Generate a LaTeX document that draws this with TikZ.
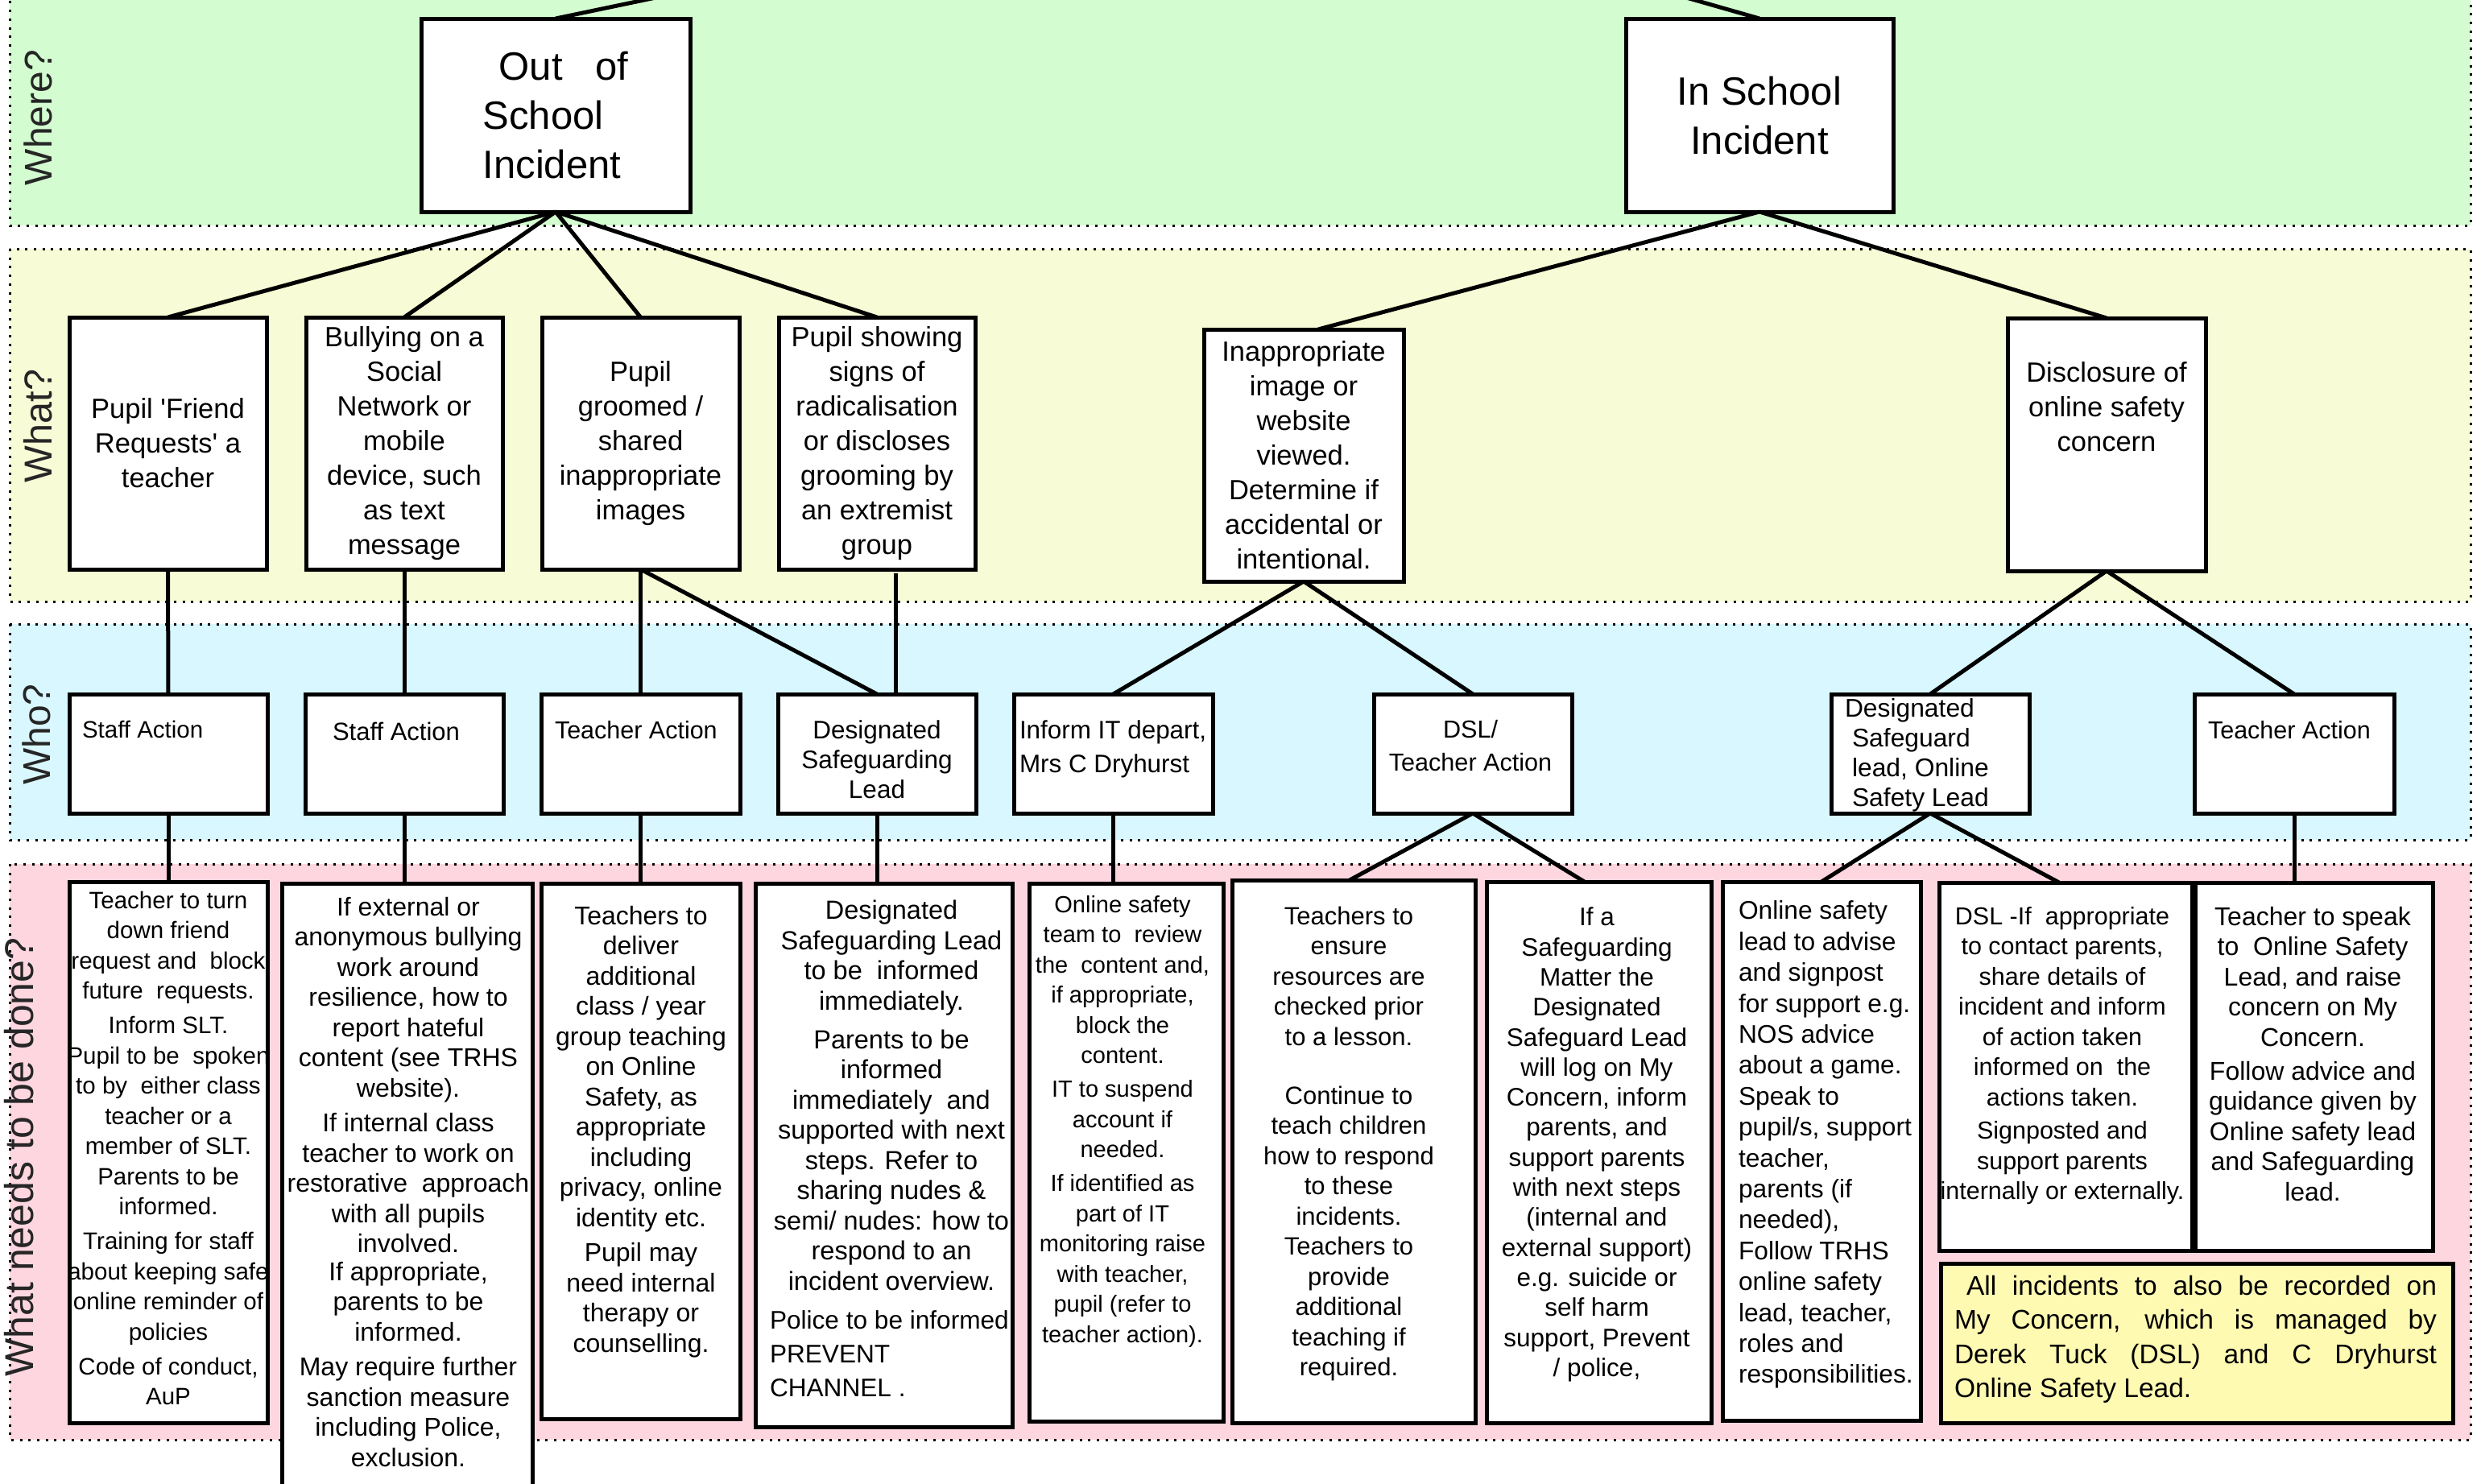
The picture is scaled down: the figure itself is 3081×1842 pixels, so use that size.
\documentclass[tikz,border=0pt]{standalone}
\usepackage{fontspec}
\setmainfont{Liberation Sans}
\definecolor{cgreen}{RGB}{211,252,208}
\definecolor{cyellow}{RGB}{248,252,214}
\definecolor{cblue}{RGB}{217,247,254}
\definecolor{cpink}{RGB}{254,214,224}
\definecolor{cnote}{RGB}{255,250,178}
\newcommand{\fz}[2]{\fontsize{#1}{#2}\selectfont}
\newcommand{\bx}[7][]{\node[bx,anchor=north west,minimum width={#5-#3},minimum height={#6-#4},#1] (#2) at (#3,#4) {#7};}
\tikzset{
  bx/.style={draw, line width=5pt, fill=white, inner sep=0pt, outer sep=0pt, align=center},
  con/.style={line width=5pt},
  band/.style={draw=black, line width=3pt, dash pattern=on 3pt off 7.7pt},
  tx/.style={inner sep=0pt, outer sep=0pt, align=center},
  lbl/.style={inner sep=0pt, rotate=90, anchor=base, text=black!85},
}
\begin{document}
\begin{tikzpicture}[x=1pt,y=-1pt]
\useasboundingbox (0,0) rectangle (3081,1842);
\clip (0,0) rectangle (3081,1842);
% bands
\fill[cgreen] (12,-20) rectangle (3068,280);
\draw[band] (12,-20) rectangle (3068,280);
\fill[cyellow] (12,309) rectangle (3068,747);
\draw[band] (12,309) rectangle (3068,747);
\fill[cblue] (12,775) rectangle (3068,1043);
\draw[band] (12,775) rectangle (3068,1043);
\fill[cpink] (12,1073) rectangle (3068,1788);
\draw[band] (12,1073) rectangle (3068,1788);
% band labels
\node[lbl, font=\fz{48}{58}] (lwhere) at (64,146) {Where?};
\node[lbl, font=\fz{48.5}{58}] (lwhat) at (64,529) {What?};
\node[lbl, font=\fz{48}{58}] (lwho) at (62,912) {Who?};
\node[lbl, font=\fz{50}{60}] (ldo) at (41,1437) {What needs to be done?};
% top level
\bx[font=\fz{49}{61}, align=left]{out}{523}{23}{857}{263}{\hspace*{20pt}Out\ \ \ of\\ School\\ Incident}
\bx[font=\fz{49}{61}]{in}{2019}{23}{2351}{263}{In School\\ Incident}
\coordinate (upL) at (824,-5);
\coordinate (upR) at (2087,-5);
% what level
\bx[font=\fz{34.5}{43}]{w1}{86}{394}{331}{707}{Pupil \textquotesingle Friend\\ Requests\textquotesingle\ a\\ teacher}
\bx[font=\fz{34.5}{43}]{w2}{380}{394}{624}{707}{Bullying on a\\ Social\\ Network or\\ mobile\\ device, such\\ as text\\ message}
\bx[font=\fz{34.5}{43}]{w3}{673}{394}{918}{707}{Pupil\\ groomed /\\ shared\\ inappropriate\\ images}
\bx[font=\fz{34.5}{43}]{w4}{967}{394}{1211}{707}{Pupil showing\\ signs of\\ radicalisation\\ or discloses\\ grooming by\\ an extremist\\ group}
\bx[font=\fz{34.5}{43}]{w5}{1495}{409}{1743}{722}{Inappropriate\\ image or\\ website\\ viewed.\\ Determine if\\ accidental or\\ intentional.}
\bx{w6}{2493}{395}{2739}{709}{}
\node[tx, anchor=north, font=\fz{34.5}{43}] (w6t) at (2616,449) {Disclosure of\\ online safety\\ concern};
% who level
\bx{s1}{86}{862}{332}{1010}{}
\bx{s2}{379}{862}{625}{1010}{}
\bx{s3}{672}{862}{919}{1010}{}
\bx{s4}{966}{862}{1212}{1010}{}
\bx{s5}{1259}{862}{1506}{1010}{}
\bx{s6}{1706}{862}{1952}{1010}{}
\bx{s7}{2274}{862}{2520}{1010}{}
\bx{s8}{2725}{862}{2973}{1010}{}
\node[tx, anchor=base west, font=\fz{29.5}{37}] (s1t) at (102,916) {Staff Action};
\node[tx, anchor=base west, font=\fz{31}{37}] (s2t) at (413,919) {Staff Action};
\node[tx, anchor=base west, font=\fz{30.5}{37}] (s3t) at (689,917) {Teacher Action};
\node[tx, anchor=north, font=\fz{31.5}{37}] (s4t) at (1089,895) {Designated\\ Safeguarding\\ Lead};
\node[tx, anchor=north west, align=left, font=\fz{31.4}{42}] (s5t) at (1266,895) {Inform IT depart,\\ Mrs C Dryhurst};
\node[tx, anchor=north, font=\fz{30.6}{41}] (s6t) at (1826,894) {DSL/\\ Teacher Action};
\node[tx, anchor=north west, align=left, font=\fz{31.8}{37.3}] (s7t) at (2300,867) {\hspace*{-9pt}Designated\\ Safeguard\\ lead, Online\\ Safety Lead};
\node[tx, anchor=base west, font=\fz{30.5}{37}] (s8t) at (2742,917) {Teacher Action};
% action level
\bx{a1}{86}{1095}{332}{1767}{}
\bx{a2}{350}{1097}{661}{1870}{}
\bx{a3}{672}{1097}{919}{1762}{}
\bx{a4}{938}{1097}{1257}{1772}{}
\bx{a5}{1278}{1097}{1519}{1765}{}
\bx{a6}{1530}{1093}{1832}{1767}{}
\bx{a7}{1846}{1095}{2125}{1767}{}
\bx{a8}{2139}{1095}{2385}{1764}{}
\bx{a9}{2408}{1096}{2722}{1553}{}
\bx{a10}{2726}{1096}{3021}{1553}{}
\bx[fill=cnote]{yb}{2410}{1569}{3046}{1767}{}
\node[tx, anchor=north, font=\fz{29.5}{37.5}] (a1t) at (209,1107) {Teacher to turn\\ down friend\\ request and\ \ block\\ future\ \ requests.\\[5.5pt] Inform SLT.\\ Pupil to be\ \ spoken\\ to by\ \ either class\\ teacher or a\\ member of SLT.\\ Parents to be\\ informed.\\[5.5pt] Training for staff\\ about keeping safe\\ online reminder of\\ policies\\[5.5pt] Code of conduct,\\ AuP};
\node[tx, anchor=north, font=\fz{32}{37.5}] (a2t) at (507,1114) {If external or\\ anonymous bullying\\ work around\\ resilience, how to\\ report hateful\\ content (see TRHS\\ website).\\[6pt] If internal class\\ teacher to work on\\ restorative\ \ approach\\ with all pupils\\ involved.\\[-3pt] If appropriate,\\ parents to be\\ informed.\\[6pt] May require further\\ sanction measure\\ including Police,\\ exclusion.};
\node[tx, anchor=north, font=\fz{32}{37.5}] (a3t) at (796,1125) {Teachers to\\ deliver\\ additional\\ class / year\\ group teaching\\ on Online\\ Safety, as\\ appropriate\\ including\\ privacy, online\\ identity etc.\\[6pt] Pupil may\\ need internal\\ therapy or\\ counselling.};
\node[tx, anchor=north, font=\fz{32.5}{37.5}] (a4t) at (1107,1118) {Designated\\ Safeguarding Lead\\ to be\ \ informed\\ immediately.\\[10.5pt] Parents to be\\ informed\\ immediately\ \ and\\ supported with next\\ steps. Refer to\\ sharing nudes \&\\ semi/ nudes: how to\\ respond to an\\ incident overview.};
\node[tx, anchor=north west, align=left, font=\fz{31.6}{42}] (a4u) at (956,1628) {Police to be informed\\ PREVENT\\ CHANNEL .};
\node[tx, anchor=north, font=\fz{29}{37.5}] (a5t) at (1394,1112) {Online safety\\ team to\ \ review\\ the\ \ content and,\\ if appropriate,\\ block the\\ content.\\[4.5pt] IT to suspend\\ account if\\ needed.\\[4.5pt] If identified as\\ part of IT\\ monitoring raise\\ with teacher,\\ pupil (refer to\\ teacher action).};
\node[tx, anchor=north, font=\fz{31}{37.5}] (a6t) at (1675,1126) {Teachers to\\ ensure\\ resources are\\ checked prior\\ to a lesson.\\[35.5pt] Continue to\\ teach children\\ how to respond\\ to these\\ incidents.\\ Teachers to\\ provide\\ additional\\ teaching if\\ required.};
\node[tx, anchor=north, font=\fz{31.5}{37.3}] (a7t) at (1983,1127) {If a\\ Safeguarding\\ Matter the\\ Designated\\ Safeguard Lead\\ will log on My\\ Concern, inform\\ parents, and\\ support parents\\ with next steps\\ (internal and\\ external support)\\ e.g. suicide or\\ self harm\\ support, Prevent\\ / police,};
\node[tx, anchor=north west, align=left, font=\fz{31.7}{38.4}] (a8t) at (2159,1119) {Online safety\\ lead to advise\\ and signpost\\ for support e.g.\\ NOS advice\\ about a game.\\ Speak to\\ pupil/s, support\\ teacher,\\ parents (if\\ needed),\\ Follow TRHS\\ online safety\\ lead, teacher,\\ roles and\\ responsibilities.};
\node[tx, anchor=north, font=\fz{30.5}{37.5}] (a9t) at (2561,1126) {DSL -If\ \ appropriate\\ to contact parents,\\ share details of\\ incident and inform\\ of action taken\\ informed on\ \ the\\ actions taken.\\[4pt] Signposted and\\ support parents\\ internally or externally.};
\node[tx, anchor=north, font=\fz{32}{37.5}] (a10t) at (2872,1126) {Teacher to speak\\ to\ \ Online Safety\\ Lead, and raise\\ concern on My\\ Concern.\\[4.5pt] Follow advice and\\ guidance given by\\ Online safety lead\\ and Safeguarding\\ lead.};
\node[tx, anchor=north west, align=left, font=\fz{33.5}{42.5}] (ybt) at (2427,1584) {\hspace*{15pt}\makebox[584pt][s]{All incidents to also be recorded on}\\ \makebox[599pt][s]{My Concern, which is managed by}\\ \makebox[599pt][s]{Derek Tuck (DSL) and C Dryhurst}\\ Online Safety Lead.};
% connectors
\draw[con] (out.north) -- (upL);
\draw[con] (in.north) -- (upR);
\draw[con] (out.south) -- (w1.north);
\draw[con] (out.south) -- (w2.north);
\draw[con] (out.south) -- (w3.north);
\draw[con] (out.south) -- (w4.north);
\draw[con] (in.south) -- ([xshift=18pt]w5.north);
\draw[con] (in.south) -- (w6.north);
\draw[con] (w1.south) -- (s1.north);
\draw[con] (w2.south) -- (s2.north);
\draw[con] (w3.south) -- (s3.north);
\draw[con] (w3.south) -- (s4.north);
\draw[con] ([xshift=23pt,yshift=-5pt]w4.south) -- ([xshift=23pt]s4.north);
\draw[con] (w5.south) -- (s5.north);
\draw[con] (w5.south) -- (s6.north);
\draw[con] (w6.south) -- (s7.north);
\draw[con] (w6.south) -- (s8.north);
\draw[con] (s1.south) -- (s1.south |- a1.north);
\draw[con] (s2.south) -- (s2.south |- a2.north);
\draw[con] (s3.south) -- (s3.south |- a3.north);
\draw[con] (s4.south) -- (s4.south |- a4.north);
\draw[con] (s5.south) -- (s5.south |- a5.north);
\draw[con] (s6.south) -- ([xshift=-5pt]a6.north);
\draw[con] (s6.south) -- ([xshift=-18pt]a7.north);
\draw[con] (s7.south) -- (a8.north);
\draw[con] (s7.south) -- ([xshift=-8pt]a9.north);
\draw[con] (s8.south) -- (s8.south |- a10.north);
\end{tikzpicture}
\end{document}
